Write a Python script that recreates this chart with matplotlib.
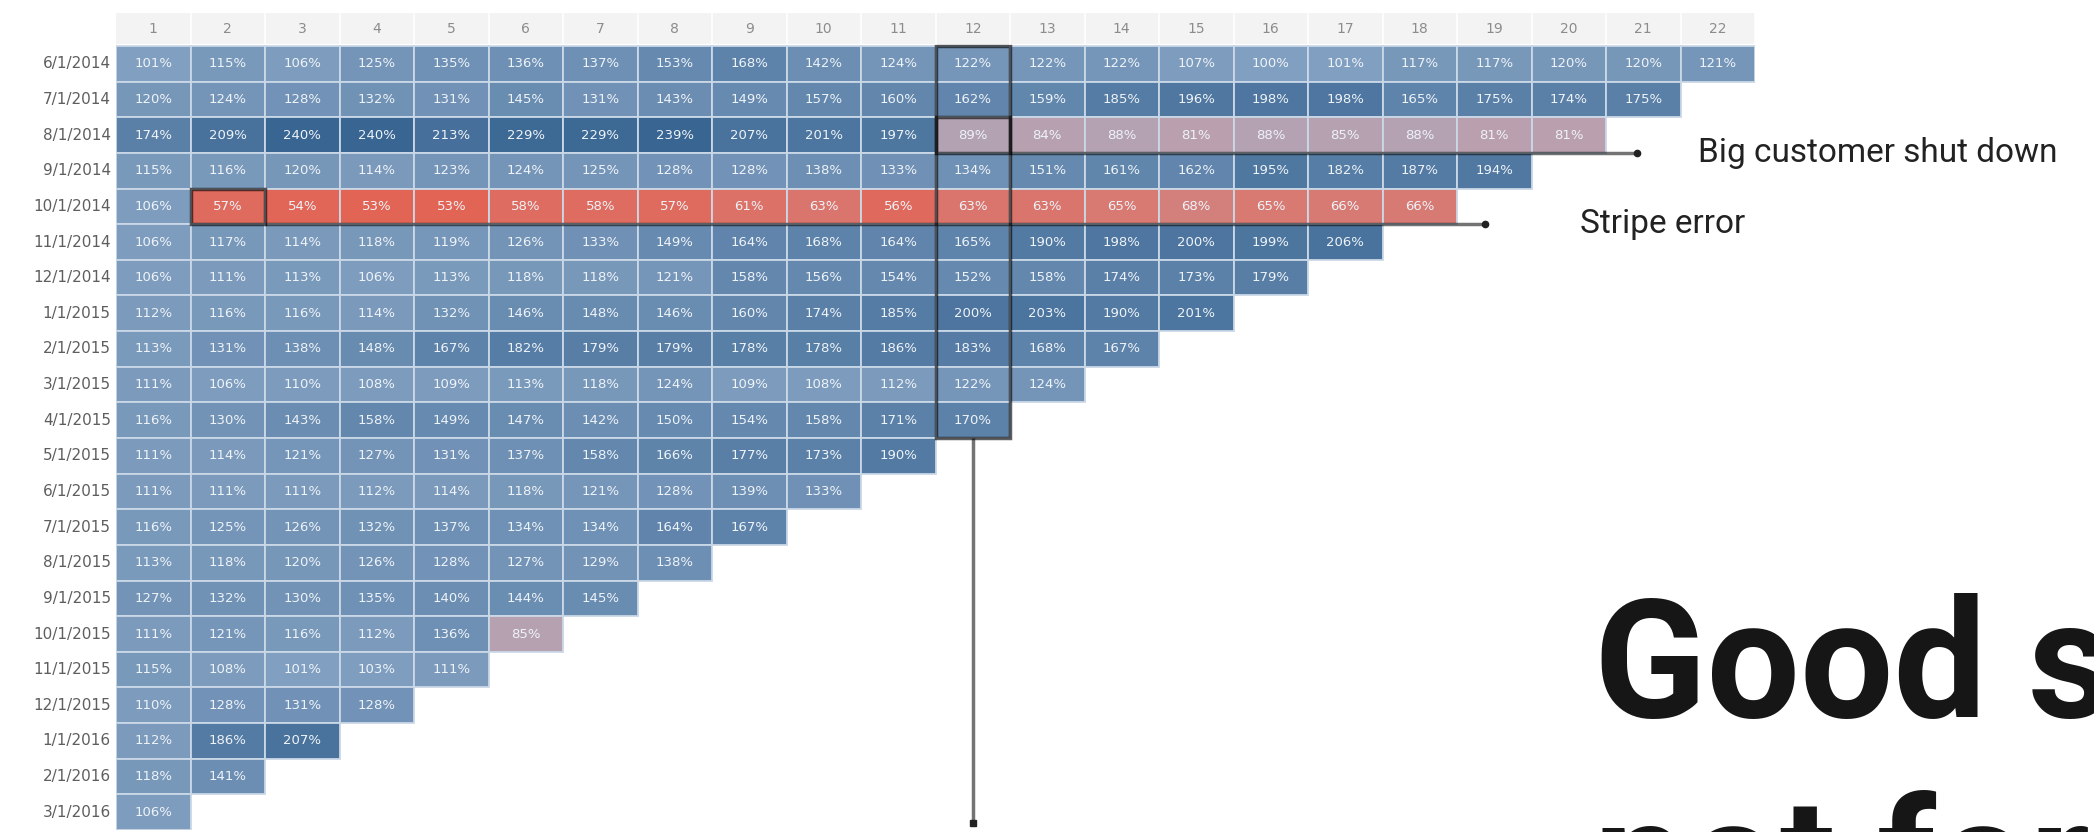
import numpy as np
import matplotlib.pyplot as plt
from matplotlib.colors import LinearSegmentedColormap, Normalize
from matplotlib.patches import Rectangle

cohorts = ["6/1/2014", "7/1/2014", "8/1/2014", "9/1/2014", "10/1/2014", "11/1/2014",
           "12/1/2014", "1/1/2015", "2/1/2015", "3/1/2015", "4/1/2015", "5/1/2015",
           "6/1/2015", "7/1/2015", "8/1/2015", "9/1/2015", "10/1/2015", "11/1/2015",
           "12/1/2015", "1/1/2016", "2/1/2016", "3/1/2016"]
periods = list(range(1, 23))

# net revenue retention per cohort, in %
retention = [
    [101, 115, 106, 125, 135, 136, 137, 153, 168, 142, 124, 122, 122, 122, 107, 100, 101, 117, 117, 120, 120, 121],
    [120, 124, 128, 132, 131, 145, 131, 143, 149, 157, 160, 162, 159, 185, 196, 198, 198, 165, 175, 174, 175],
    [174, 209, 240, 240, 213, 229, 229, 239, 207, 201, 197, 89, 84, 88, 81, 88, 85, 88, 81, 81],
    [115, 116, 120, 114, 123, 124, 125, 128, 128, 138, 133, 134, 151, 161, 162, 195, 182, 187, 194],
    [106, 57, 54, 53, 53, 58, 58, 57, 61, 63, 56, 63, 63, 65, 68, 65, 66, 66],
    [106, 117, 114, 118, 119, 126, 133, 149, 164, 168, 164, 165, 190, 198, 200, 199, 206],
    [106, 111, 113, 106, 113, 118, 118, 121, 158, 156, 154, 152, 158, 174, 173, 179],
    [112, 116, 116, 114, 132, 146, 148, 146, 160, 174, 185, 200, 203, 190, 201],
    [113, 131, 138, 148, 167, 182, 179, 179, 178, 178, 186, 183, 168, 167],
    [111, 106, 110, 108, 109, 113, 118, 124, 109, 108, 112, 122, 124],
    [116, 130, 143, 158, 149, 147, 142, 150, 154, 158, 171, 170],
    [111, 114, 121, 127, 131, 137, 158, 166, 177, 173, 190],
    [111, 111, 111, 112, 114, 118, 121, 128, 139, 133],
    [116, 125, 126, 132, 137, 134, 134, 164, 167],
    [113, 118, 120, 126, 128, 127, 129, 138],
    [127, 132, 130, 135, 140, 144, 145],
    [111, 121, 116, 112, 136, 85],
    [115, 108, 101, 103, 111],
    [110, 128, 131, 128],
    [112, 186, 207],
    [118, 141],
    [106],
]

# annotated cells: (cohort, period)
big_customer = ("8/1/2014", 12)
stripe_error = ("10/1/2014", 2)
highlight_col = 12
highlight_last = "4/1/2015"

cmap = LinearSegmentedColormap.from_list("nrr", [
    (0.0, "#e45f4e"),
    ((66 - 50) / 190, "#d77b75"),
    ((80 - 50) / 190, "#baa0ae"),
    ((89 - 50) / 190, "#b3a2b2"),
    ((100 - 50) / 190, "#819fc0"),
    (1.0, "#386592"),
])
norm = Normalize(vmin=50, vmax=240)

W, H = 2094, 832
fig = plt.figure(figsize=(W / 100, H / 100), dpi=100)
ax = fig.add_axes([116 / W, 1 - 830 / H, 1639 / W, (830 - 10.4) / H])
ax.set_xlim(0.5, 22.5)
ax.set_ylim(21.5, -1.5)
ax.axis("off")

# header band
ax.add_patch(Rectangle((0.5, -1.42), 22, 0.87, color="#f3f3f3", lw=0))
for c in periods:
    ax.text(c, -0.98, str(c), ha="center", va="center", fontsize=10, color="#8c8c8c")
    ax.plot([c + 0.5, c + 0.5], [-1.42, -0.55], color="white", lw=1.2)

# cells
for i, row in enumerate(retention):
    ax.text(0.43, i, cohorts[i], ha="right", va="center", fontsize=11, color="#5e5e5e")
    for j, v in enumerate(row):
        ax.add_patch(Rectangle((j + 0.5, i - 0.5), 1, 1, facecolor=cmap(norm(v)),
                               edgecolor="#cad8e7", lw=1.3))
        ax.text(j + 1, i, f"{v}%", ha="center", va="center", fontsize=9.5, color="#eef3f8")

line_kw = dict(color="black", alpha=0.55, lw=2.5, solid_capstyle="butt", clip_on=False)
note_font = ["Roboto", "DejaVu Sans"]

# column 12 highlight and arrow down
last = cohorts.index(highlight_last)
ax.add_patch(Rectangle((highlight_col - 0.5, -0.5), 1, last + 1, fill=False,
                       ec="black", alpha=0.62, lw=2.5))
ax.plot([highlight_col, highlight_col], [last + 0.5, 21.3], **line_kw)
ax.plot([highlight_col], [21.3], marker="s", ms=4, color="#222222", clip_on=False)

# big customer shut down
r, c = cohorts.index(big_customer[0]), big_customer[1]
ax.add_patch(Rectangle((c - 0.5, r - 0.5), 1, 1, fill=False, ec="black", alpha=0.62, lw=2.5))
ax.plot([c + 0.5, 20.92], [r + 0.5, r + 0.5], **line_kw)
ax.plot([20.92], [r + 0.5], marker="o", ms=4.5, color="#222222", clip_on=False)
ax.text(21.74, r + 0.5, "Big customer shut down", ha="left", va="center", fontsize=24,
        family=note_font, color="#222222", clip_on=False)

# stripe error
r, c = cohorts.index(stripe_error[0]), stripe_error[1]
ax.add_patch(Rectangle((c - 0.5, r - 0.5), 1, 1, fill=False, ec="black", alpha=0.62, lw=2.5))
ax.plot([c + 0.5, 18.88], [r + 0.5, r + 0.5], **line_kw)
ax.plot([18.88], [r + 0.5], marker="o", ms=4.5, color="#222222", clip_on=False)
ax.text(20.15, r + 0.5, "Stripe error", ha="left", va="center", fontsize=24,
        family=note_font, color="#222222", clip_on=False)

# big title, running off the canvas like in the slide
fig.text(1594 / W, 1 - 717 / H, "Good s", fontsize=119, fontweight="bold",
         family=["Roboto", "DejaVu Sans"], color="#161616", va="baseline", ha="left")
fig.text(1594 / W, 1 - 915 / H, "not for", fontsize=119, fontweight="bold",
         family=["Roboto", "DejaVu Sans"], color="#161616", va="baseline", ha="left")

fig.savefig("out.png", dpi=100)
